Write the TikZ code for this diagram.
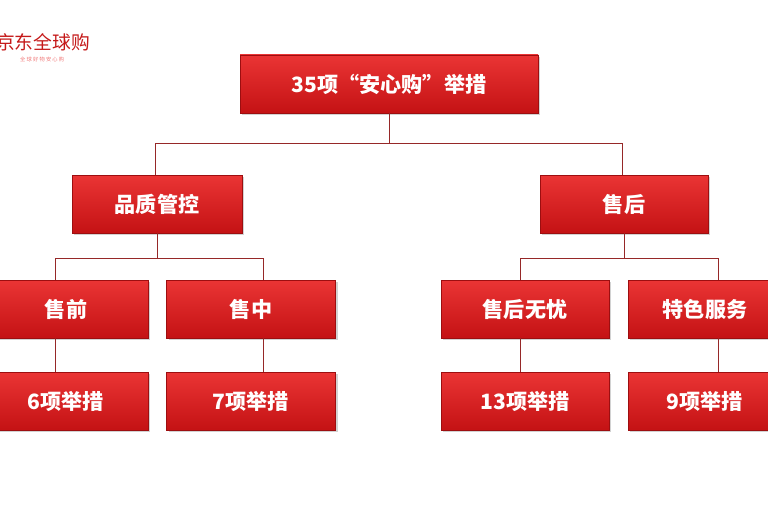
\documentclass[tikz,border=0pt]{standalone}
\usepackage{fontspec}
\setmainfont{Noto Sans CJK SC}
\usetikzlibrary{shadows}
\definecolor{bred}{RGB}{232,30,30}
\definecolor{dred}{RGB}{196,18,20}
\definecolor{lred}{RGB}{150,40,40}
\begin{document}
\begin{tikzpicture}[x=0.03cm,y=-0.03cm,
 box/.style={rectangle,top color=bred!90!white,bottom color=dred,draw=dred!80!black,line width=0.3pt,
  text=white,font=\fontsize{18}{21}\selectfont\bfseries,inner sep=0pt,drop shadow={opacity=0.35,shadow xshift=2pt,shadow yshift=-2pt}},
 ln/.style={draw=lred,line width=0.6pt}]
\useasboundingbox[fill=white] (0,0) rectangle (768,510);
\newcommand{\bx}[6]{\node[box,minimum width=#4*0.03cm,minimum height=#5*0.03cm] (#1) at (#2,#3) {#6};}
\bx{top}{389}{84}{298}{58}{35项“安心购”举措}
\bx{pz}{157}{204}{170}{58}{品质管控}
\bx{sh}{624}{204}{168}{58}{售后}
\bx{sq}{66}{309}{164}{58}{售前}
\bx{sz}{251}{309}{169}{58}{售中}
\bx{wy}{525}{309}{168}{58}{售后无忧}
\bx{ts}{705}{309}{154}{58}{特色服务}
\bx{a6}{66}{401}{164}{58}{6项举措}
\bx{a7}{251}{401}{169}{58}{7项举措}
\bx{a13}{525}{401}{168}{58}{13项举措}
\bx{a9}{705}{401}{154}{58}{9项举措}
\draw[ln] (top.south) -- (389,143) coordinate (m1);
\draw[ln] (155,143) -- (622,143);
\draw[ln] (155,143) -- (155,175);
\draw[ln] (622,143) -- (622,175);
\draw[ln] (pz.south) -- (157,258);
\draw[ln] (55,258) -- (263,258);
\draw[ln] (55,258) -- (55,280); \draw[ln] (263,258) -- (263,280);
\draw[ln] (sh.south) -- (624,258);
\draw[ln] (520,258) -- (718,258);
\draw[ln] (520,258) -- (520,280); \draw[ln] (718,258) -- (718,280);
\draw[ln] (55,338) -- (55,372); \draw[ln] (263,338) -- (263,372);
\draw[ln] (520,338) -- (520,372); \draw[ln] (718,338) -- (718,372);
\node[anchor=west,text=bred!85!black,font=\fontsize{16}{18}\selectfont,inner sep=0pt] (logo) at (-4,42) {京东全球购};
\node[anchor=west,text=bred!60,font=\fontsize{4.5}{5}\selectfont,inner sep=0pt] (slogan) at (20,59) {全 球 好 物 安 心 购};
\end{tikzpicture}
\end{document}
